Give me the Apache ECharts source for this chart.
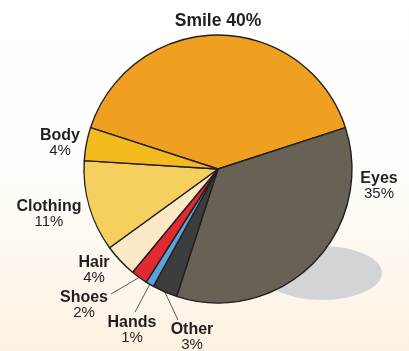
<!DOCTYPE html>
<html><head><meta charset="utf-8">
<script src="https://cdn.jsdelivr.net/npm/echarts@6/dist/echarts.min.js"></script>
<style>html,body{margin:0;padding:0}#c{width:409px;height:351px}</style>
</head><body><div id="c"></div>
<script>
const categories = ['Smile','Eyes','Other','Hands','Shoes','Hair','Clothing','Body'];
const values = [40,35,3,1,2,4,11,4];
const sliceColors = ['#EFA021','#686256','#3B3E3C','#5BA3DC','#E02A2F','#FDE8C6','#F5D05F','#F4BB1E'];
// label anchor positions (px) and label-line end points
const labelPos = [[218,21],[379,186],[192,337],[132,330],[84,305],[94,270],[49,214],[60,143]];
const lineEnds = [null,null,[178,320],[135,312],[111,294],null,null,null];

const chart = echarts.init(document.getElementById('c'), null, {renderer:'canvas'});
const data = categories.map((n,i)=>({
  name:n, value:values[i],
  itemStyle:{color:sliceColors[i]},
  labelLine:{show: !!lineEnds[i]}
}));
chart.setOption({
  backgroundColor:{type:'linear',x:0,y:0,x2:0,y2:1,colorStops:[{offset:0,color:'#FFFFFF'},{offset:0.45,color:'#FFFEFB'},{offset:1,color:'#FCF2E3'}]},
  animation:false,
  graphic:[{type:'circle',z:0,x:322,y:273,scaleX:1,scaleY:0.45,shape:{cx:0,cy:0,r:60},style:{fill:'#D3D4D6'}}],
  series:[{
    type:'pie', z:2,
    center:[218,169], radius:134,
    startAngle:162, clockwise:true,
    avoidLabelOverlap:false,
    itemStyle:{borderColor:'#231F20',borderWidth:1.4},
    label:{
      show:true, position:'outside', color:'#231F20',
      fontFamily:'Liberation Sans', 
      formatter:p=> p.dataIndex===0 ? '{b|'+p.name+' '+p.value+'%}' : '{n|'+p.name+'}\n{p|'+p.value+'%}',
      rich:{
        b:{fontSize:17.5,fontWeight:'bold',color:'#231F20',fontFamily:'Liberation Sans'},
        n:{fontSize:16,fontWeight:'bold',color:'#231F20',lineHeight:15,fontFamily:'Liberation Sans',align:'center'},
        p:{fontSize:15,color:'#231F20',lineHeight:15,fontFamily:'Liberation Sans',align:'center'}
      }
    },
    labelLine:{lineStyle:{color:'#4A4A4A',width:0.9},length:10,length2:10},
    labelLayout:function(params){
      const i=params.dataIndex;
      const r={x:labelPos[i][0],y:labelPos[i][1],align:'center',verticalAlign:'middle'};
      if(lineEnds[i] && params.labelLinePoints){
        r.labelLinePoints=[params.labelLinePoints[0], lineEnds[i], lineEnds[i]];
      }
      return r;
    },
    data:data
  }]
});
</script></body></html>
